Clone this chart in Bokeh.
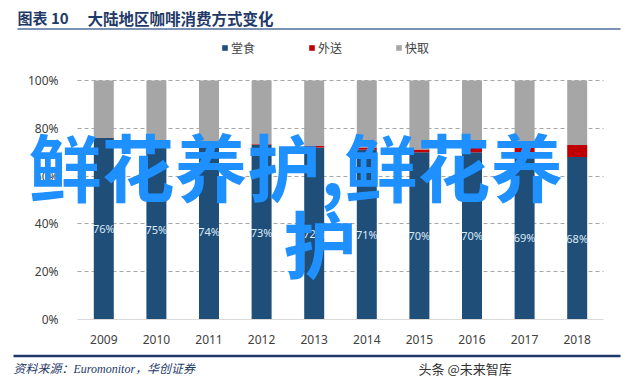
from bokeh.plotting import figure
from bokeh.models import (ColumnDataSource, Range1d, FixedTicker, Label,
                          LabelSet, Legend, Arrow)
from bokeh.core.properties import value
from bokeh.embed import file_html
from bokeh.resources import INLINE

# ---- data ----
years = ["2009", "2010", "2011", "2012", "2013", "2014", "2015", "2016", "2017", "2018"]
dine_in = [76, 75, 74, 73, 72, 71, 70, 70, 69, 68]          # 堂食
delivery = [0.1, 0.1, 0.2, 0.3, 0.6, 1.0, 1.1, 2.4, 3.6, 5.0]  # 外送
takeaway = [round(100 - a - b, 1) for a, b in zip(dine_in, delivery)]  # 快取
series_names = ["堂食", "外送", "快取"]
y_ticks = [0, 20, 40, 60, 80, 100]
y_tick_labels = ["0%", "20%", "40%", "60%", "80%", "100%"]

title_no = "图表 10"
title_text = "大陆地区咖啡消费方式变化"
source_text = "资料来源：Euromonitor，华创证券"
mark_text = "头条 @未来智库"
overlay_line1 = "鲜花养护,鲜花养"
overlay_line2 = "护"

COLORS = ["#1F4E79", "#C00000", "#A6A6A6"]
NAVY = "#1F3A68"

# ---- layout geometry (canvas pixels) ----
W, H = 640, 385
PLOT_L, PLOT_R, PLOT_T, PLOT_B = 77, 603, 80, 319
n = len(years)
px_per_cat = (PLOT_R - PLOT_L) / n
px_per_pct = (PLOT_B - PLOT_T) / 100.0
x_start = -0.5 - PLOT_L / px_per_cat
x_end = x_start + W / px_per_cat
y_start = -(H - PLOT_B) / px_per_pct
y_end = y_start + H / px_per_pct

xi = list(range(n))
src = ColumnDataSource(dict(
    xi=xi, dine=dine_in, deliv=delivery, take=takeaway,
    lab_y=[v / 2 for v in dine_in],
    lab=[f"{v}%" for v in dine_in],
))

p = figure(width=W, height=H, output_backend="svg", toolbar_location=None,
           x_range=Range1d(x_start, x_end), y_range=Range1d(y_start, y_end),
           min_border=0)
p.outline_line_color = None
p.background_fill_color = "white"
p.border_fill_color = "white"

renderers = p.vbar_stack(["dine", "deliv", "take"], x="xi", width=0.38, color=COLORS,
                         line_color=None, source=src)

p.add_layout(LabelSet(x="xi", y="lab_y", text="lab", source=src, text_align="center",
                      text_baseline="middle", text_color="#DDEBF7", text_font_size="11px",
                      text_font=value("Noto Sans")))

# axes drawn at fixed positions inside the canvas
p.yaxis.fixed_location = -0.5
p.yaxis.bounds = (0, 100)
p.yaxis.ticker = FixedTicker(ticks=y_ticks)
p.yaxis.major_label_overrides = {t: l for t, l in zip(y_ticks, y_tick_labels)}
p.yaxis.axis_line_color = None
p.yaxis.major_tick_line_color = None
p.yaxis.minor_tick_line_color = None
p.yaxis.major_label_standoff = 13
p.yaxis.major_label_text_font_size = "12px"
p.yaxis.major_label_text_font = "Noto Sans"
p.yaxis.major_label_text_color = "#404040"

p.xaxis.fixed_location = 0
p.xaxis.bounds = (-0.5, n - 0.5)
p.xaxis.ticker = FixedTicker(ticks=xi)
p.xaxis.major_label_overrides = {i: y for i, y in zip(xi, years)}
p.xaxis.axis_line_color = "#D9D9D9"
p.xaxis.axis_line_width = 1
p.xaxis.major_tick_line_color = None
p.xaxis.minor_tick_line_color = None
p.xaxis.major_label_standoff = 9
p.xaxis.major_label_text_font_size = "12px"
p.xaxis.major_label_text_font = "Noto Sans"
p.xaxis.major_label_text_color = "#404040"

p.xgrid.grid_line_color = None
p.ygrid.ticker = FixedTicker(ticks=y_ticks[1:])
p.ygrid.cross_bounds = (-0.5, n - 0.5)
p.ygrid.grid_line_color = "#A6A6A6"
p.ygrid.grid_line_dash = "4 3"
p.ygrid.grid_line_width = 1

legend = Legend(items=[(s, [r]) for s, r in zip(series_names, renderers)],
                orientation="horizontal", location=(221, 329), padding=0, margin=0,
                spacing=53, glyph_width=7, glyph_height=7, label_standoff=3,
                label_height=14, label_text_font_size="12px",
                label_text_font="Noto Sans CJK SC", label_text_color="#404040",
                border_line_color=None, background_fill_alpha=0)
p.add_layout(legend, "center")


def lab(x, y, text, **kw):
    return Label(x=x, y=y, x_units="canvas", y_units="canvas", text=text,
                 text_baseline="middle", **kw)

# header
p.add_layout(lab(17, 17, title_no, text_font="Noto Sans CJK SC", text_font_style="bold",
                 text_font_size="15px", text_color=NAVY))
p.add_layout(lab(87, 17, title_text, text_font="Noto Sans CJK SC", text_font_style="bold",
                 text_font_size="15.5px", text_color=NAVY))
p.add_layout(Arrow(end=None, x_start=17, y_start=28.5, x_end=620, y_end=28.5,
                   start_units="canvas", end_units="canvas",
                   line_color="#4F6E9C", line_width=1.5))
# footer
p.add_layout(Arrow(end=None, x_start=13, y_start=355.5, x_end=620, y_end=355.5,
                   start_units="canvas", end_units="canvas",
                   line_color=NAVY, line_width=2.5))
p.add_layout(lab(13, 368, source_text, text_font="Liberation Serif, Noto Sans CJK SC",
                 text_font_style="italic", text_font_size="12px", text_color=NAVY))
p.add_layout(lab(418, 368, mark_text, text_font="Noto Sans CJK SC", text_font_size="13px",
                 text_color="#333333"))

# watermark overlay
p.add_layout(lab(28, 163, overlay_line1, text_font="Noto Sans CJK SC", text_font_style="bold",
                 text_font_size="73px", text_color="#1E90FF"))
p.add_layout(lab(283, 240, overlay_line2, text_font="Noto Sans CJK SC", text_font_style="bold",
                 text_font_size="73px", text_color="#1E90FF"))

open("out.html", "w").write(file_html(p, INLINE))
